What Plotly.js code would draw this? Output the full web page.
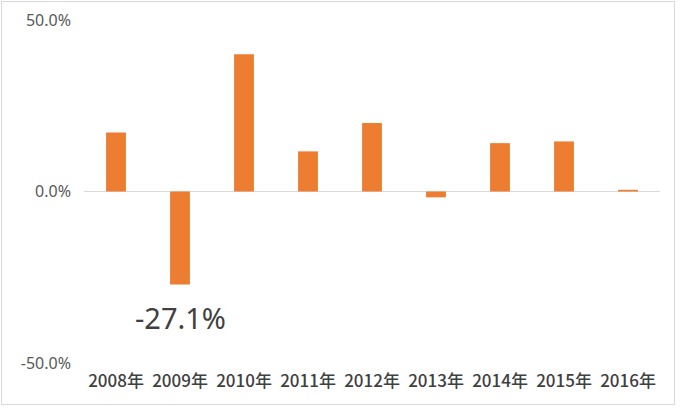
<!DOCTYPE html>
<html>
<head>
<meta charset="utf-8">
<script src="https://cdn.plot.ly/plotly-3.0.1.min.js"></script>
<style>
html,body{margin:0;padding:0;background:#fff;}
#frame{position:absolute;left:1px;top:1px;width:674px;height:404px;border:1px solid #d9d9d9;box-sizing:border-box;}
#chart{position:absolute;left:0;top:0;width:680px;height:409px;}
</style>
</head>
<body>
<div id="chart"></div>
<div id="frame"></div>
<script>
const categories = ["2008年","2009年","2010年","2011年","2012年","2013年","2014年","2015年","2016年"];
const values = [17.2, -27.1, 40.0, 11.7, 20.0, -1.7, 14.1, 14.6, 0.5];
const tickVals = [-50, 0, 50];
const tickText = ["-50.0%", "0.0%", "50.0%"];
const highlightIndex = 1;
const highlightLabel = "-27.1%";

const trace = {
  type: "bar",
  x: categories,
  y: values,
  marker: {color: "#ed7d31"},
  width: 0.31,
  hoverinfo: "x+y"
};

const layout = {
  width: 680,
  height: 409,
  margin: {l: 84, r: 20, t: 20, b: 46},
  paper_bgcolor: "#ffffff",
  plot_bgcolor: "#ffffff",
  showlegend: false,
  xaxis: {
    type: "category",
    showgrid: false,
    zeroline: false,
    showline: false,
    ticks: "",
    ticklabelstandoff: 6,
    tickfont: {family: "Noto Sans CJK JP", size: 17, weight: 500, color: "#404040"},
    tickangle: 0
  },
  yaxis: {
    range: [-50, 50],
    tickvals: tickVals,
    ticktext: tickText,
    showgrid: true,
    gridcolor: "#d9d9d9",
    gridwidth: 1,
    zeroline: true,
    zerolinecolor: "#d9d9d9",
    zerolinewidth: 1,
    showline: false,
    ticks: "",
    ticklabelstandoff: 12,
    tickfont: {family: "Noto Sans, sans-serif", size: 16, color: "#595959"}
  },
  annotations: [{
    x: categories[highlightIndex],
    y: values[highlightIndex],
    xref: "x",
    yref: "y",
    text: highlightLabel,
    showarrow: false,
    yanchor: "top",
    yshift: -12,
    font: {family: "Noto Sans, sans-serif", size: 29, color: "#404040"}
  }]
};

Plotly.newPlot("chart", [trace], layout, {displayModeBar: false, staticPlot: true});
</script>
</body>
</html>
